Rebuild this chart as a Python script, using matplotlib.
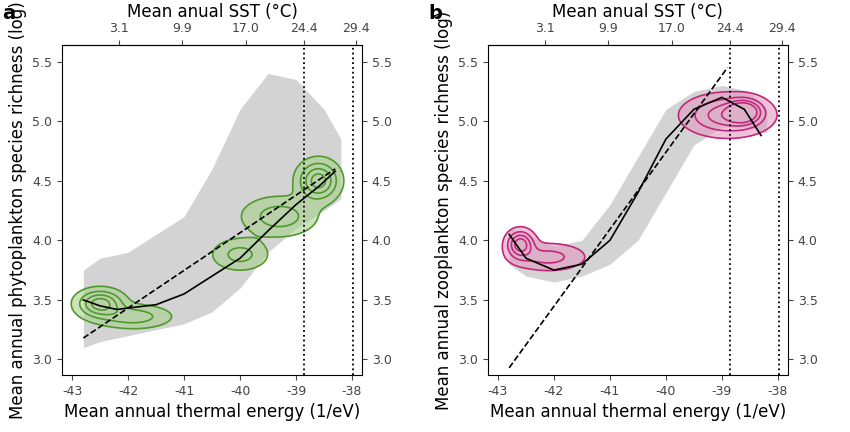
import numpy as np
import matplotlib.pyplot as plt

# gray point cloud envelopes (x, lower, upper)
cloud_x = [-42.8, -42.5, -42.0, -41.5, -41.0, -40.5, -40.0, -39.5, -39.0, -38.5, -38.2]
cloud_a_lo = [3.10, 3.15, 3.20, 3.25, 3.30, 3.40, 3.60, 3.90, 4.10, 4.25, 4.35]
cloud_a_hi = [3.75, 3.85, 3.90, 4.05, 4.20, 4.60, 5.10, 5.40, 5.35, 5.10, 4.85]
cloud_b_lo = [3.80, 3.70, 3.65, 3.70, 3.80, 4.00, 4.40, 4.80, 4.95, 4.95, 4.90]
cloud_b_hi = [4.10, 4.05, 3.95, 4.00, 4.30, 4.70, 5.10, 5.25, 5.30, 5.25, 5.10]

# smooth fits
fit_a_x = [-42.8, -42.5, -42.2, -41.5, -41.0, -40.5, -40.0, -39.5, -39.0, -38.6, -38.3]
fit_a_y = [3.50, 3.45, 3.42, 3.46, 3.55, 3.70, 3.85, 4.08, 4.30, 4.45, 4.58]
fit_b_x = [-42.8, -42.5, -42.0, -41.5, -41.0, -40.5, -40.0, -39.5, -39.0, -38.6, -38.3]
fit_b_y = [4.05, 3.85, 3.75, 3.80, 4.00, 4.40, 4.85, 5.10, 5.20, 5.10, 4.88]

# linear fits (dashed)
lin_a_x, lin_a_y = [-42.8, -38.3], [3.18, 4.60]
lin_b_x, lin_b_y = [-42.8, -38.9], [2.93, 5.45]

# density blobs for contours: x, y, sx, sy, weight
blobs_a = [(-42.5, 3.47, 0.25, 0.07, 1.0), (-41.9, 3.36, 0.40, 0.06, 0.5),
           (-40.0, 3.88, 0.30, 0.08, 0.45), (-38.6, 4.50, 0.22, 0.10, 1.0),
           (-39.3, 4.20, 0.40, 0.10, 0.5)]
blobs_b = [(-42.6, 3.97, 0.15, 0.07, 1.0), (-42.1, 3.86, 0.40, 0.07, 0.45),
           (-38.9, 5.05, 0.45, 0.10, 0.8), (-38.6, 5.08, 0.18, 0.06, 1.0)]

sst_ticks = [-42.16, -41.04, -39.9, -38.86, -37.93]
sst_labels = ['3.1', '9.9', '17.0', '24.4', '29.4']
vlines = [-38.86, -37.98]

fig = plt.figure(figsize=(8.5, 4.32), dpi=100)
panels = [
    (0.073, cloud_a_lo, cloud_a_hi, fit_a_x, fit_a_y, lin_a_x, lin_a_y, blobs_a, '#4f9a2c', '#a9d18e',
     'Mean annual phytoplankton species richness (log)', 'a'),
    (0.574, cloud_b_lo, cloud_b_hi, fit_b_x, fit_b_y, lin_b_x, lin_b_y, blobs_b, '#c4267e', '#e39bc2',
     'Mean annual zooplankton species richness (log)', 'b'),
]
gx, gy = np.meshgrid(np.linspace(-43.2, -37.8, 300), np.linspace(2.85, 5.65, 300))
for left, lo, hi, fx, fy, lx, ly, blobs, col, fcol, ylab, tag in panels:
    ax = fig.add_axes([left, 0.132, 0.353, 0.764])
    ax.fill_between(cloud_x, lo, hi, color='#c8c8c8', alpha=0.8, lw=0)
    dens = np.zeros_like(gx)
    for bx, by, sx, sy, w in blobs:
        dens += w * np.exp(-0.5 * (((gx - bx) / sx) ** 2 + ((gy - by) / sy) ** 2))
    ax.contourf(gx, gy, dens, levels=[0.12, 10], colors=[fcol], alpha=0.6)
    ax.contour(gx, gy, dens, levels=[0.12, 0.35, 0.6, 0.85], colors=col, linewidths=1.2)
    xs = np.array(fx)
    ax.plot(xs, fy, color='black', lw=1.2)
    ax.plot(lx, ly, color='black', lw=1.2, ls='--')
    for v in vlines:
        ax.axvline(v, color='black', ls=':', lw=1.3)
    ax.set_xlim(-43.18, -37.82)
    ax.set_ylim(2.87, 5.64)
    ax.set_xticks([-43, -42, -41, -40, -39, -38])
    ax.set_xticklabels(['-43', '-42', '-41', '-40', '-39', '-38'])
    ax.set_yticks([3.0, 3.5, 4.0, 4.5, 5.0, 5.5])
    ax.tick_params(labelsize=9, colors='#444444', right=True, labelright=True)
    ax.set_xlabel('Mean annual thermal energy (1/eV)', fontsize=12)
    ax.set_ylabel(ylab, fontsize=12)
    top = ax.secondary_xaxis('top')
    top.set_xticks(sst_ticks)
    top.set_xticklabels(sst_labels)
    top.tick_params(labelsize=9, colors='#444444')
    top.set_xlabel('Mean anual SST (°C)', fontsize=12)
    fig.text(left - 0.07, 0.955, tag, fontsize=14, fontweight='bold')

fig.savefig('out.png', dpi=100)
